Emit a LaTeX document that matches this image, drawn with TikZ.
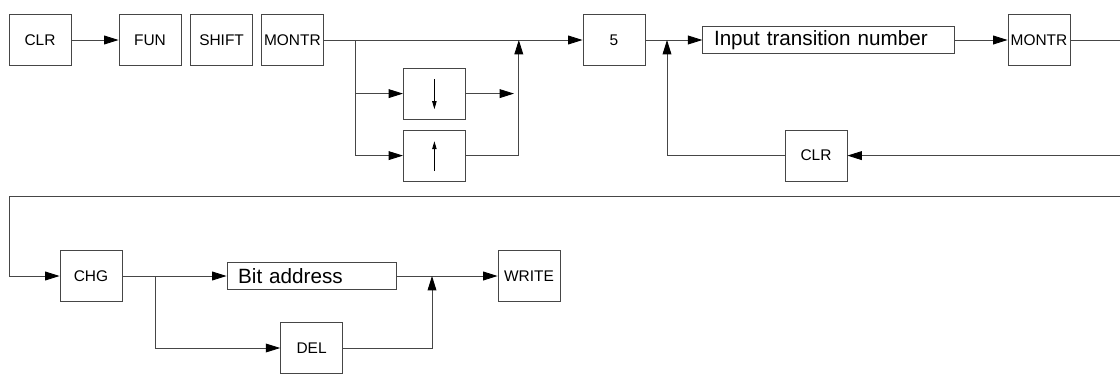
\documentclass[tikz,border=0pt]{standalone}
\usepackage{fontspec}
\setmainfont{Liberation Sans}
\usepackage{tikz}
\usetikzlibrary{positioning,arrows.meta}
\definecolor{linegray}{RGB}{70,70,70}

\begin{document}
\begin{tikzpicture}[
    key/.style={
        draw=linegray,
        line width=0.6pt,
        minimum width=1.55cm,
        minimum height=1.28cm,
        inner sep=1pt,
        align=center,
        font=\fontsize{11}{13}\selectfont
    },
    wide/.style={
        draw=linegray,
        line width=0.6pt,
        minimum height=0.66cm,
        inner xsep=0.28cm,
        inner ysep=0pt,
        align=left,
        font=\fontsize{14.7}{17}\selectfont
    },
    line/.style={
        line width=0.6pt,
        linegray
    },
    arr/.style={
        -{Triangle[length=3.6mm,width=2.2mm,black]},
        line width=0.6pt,
        linegray
    },
    tick/.style={
        -{Triangle[length=2mm,width=1.1mm]},
        line width=0.6pt,
        black
    }
]
\useasboundingbox (0,0) rectangle (28,-9.35);

% ============================================================
% FIRST ROW — KEY SEQUENCE
% ============================================================

\node[key] (clrA) at (1.0,-1.0) {CLR};
\node[key] (fun) at (3.75,-1.0) {FUN};
\node[key] (shift) at (5.54,-1.0) {SHIFT};
\node[key] (montrA) at (7.31,-1.0) {MONTR};

\node[key] (downkey) at (10.86,-2.34) {};
\node[key] (upkey) at (10.86,-3.89) {};

\node[key] (five) at (15.35,-1.0) {5};
\node[wide, text width=5.72cm] (input) at (20.71,-1.0) {Input transition number};
\node[key] (montrB) at (25.975,-1.0) {MONTR};
\node[key] (clrB) at (20.4,-3.89) {CLR};

\coordinate (split) at (8.875,-1.0);
\coordinate (join) at (12.97,-1.0);
\coordinate (loop) at (16.675,-1.0);
\coordinate (edgeA) at (28,-1.0);
\coordinate (edgeB) at (28,-3.89);

% Arrows
\draw[arr] (clrA) -- (fun);
\draw[line] (montrA) -- (split);
\draw[arr] (split) -- (five);
\draw[arr] (split) |- (downkey);
\draw[arr] (split) |- (upkey);
\draw[arr, shorten >=1.2mm] (downkey) -- (downkey -| join);
\draw[arr] (upkey) -| (join);
\draw[arr] (five) -- (input);
\draw[arr] (input) -- (montrB);
\draw[line] (montrB) -- (edgeA);
\draw[arr] (edgeB) -- (clrB);
\draw[arr] (clrB) -| (loop);

% Cursor keys
\draw[tick] ([yshift=3.6mm]downkey.center) -- ([yshift=-3.9mm]downkey.center);
\draw[tick] ([yshift=-3.9mm]upkey.center) -- ([yshift=3.6mm]upkey.center);

% ============================================================
% SECOND ROW — CHANGE / DELETE
% ============================================================

\node[key] (chg) at (2.275,-6.9) {CHG};
\node[wide, text width=3.67cm] (bit) at (7.79,-6.9) {Bit address};
\node[key] (del) at (7.79,-8.7) {DEL};
\node[key] (write) at (13.225,-6.9) {WRITE};

\coordinate (edgeC) at (28,-4.9);
\coordinate (corner) at (0.225,-4.9);
\coordinate (fork) at (3.875,-6.9);
\coordinate (merge) at (10.8,-6.9);

% Arrows
\draw[arr] (edgeC) -- (corner) |- (chg);
\draw[line] (chg) -- (fork);
\draw[arr] (fork) -- (bit);
\draw[arr] (fork) |- (del);
\draw[line] (bit) -- (merge);
\draw[arr] (merge) -- (write);
\draw[arr] (del) -| (merge);

\end{tikzpicture}
\end{document}
